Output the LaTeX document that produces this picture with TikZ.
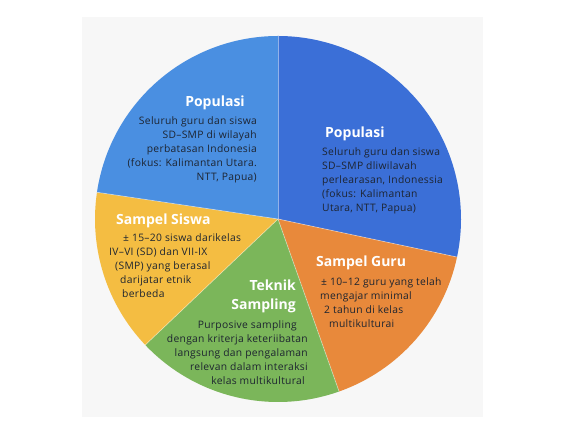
\documentclass[tikz,border=0pt]{standalone}
\usepackage{fontspec}
\setmainfont{Open Sans}
\usetikzlibrary{positioning}
\definecolor{popA}{HTML}{4A8FE1}
\definecolor{popB}{HTML}{3B6FD7}
\definecolor{guru}{HTML}{E8893B}
\definecolor{teknik}{HTML}{7BB65A}
\definecolor{siswa}{HTML}{F4BD42}
\definecolor{paper}{HTML}{F7F7F7}
\definecolor{ink}{HTML}{1D2430}

\begin{document}
\begin{tikzpicture}[x=1pt,y=1pt,
 head/.style={font=\bfseries\fontsize{14}{19}\selectfont,text=white,inner sep=0pt},
 body/.style={font=\fontsize{10.3}{14}\selectfont\addfontfeature{LetterSpace=3},text=ink,inner sep=0pt}]
\useasboundingbox (0,0) rectangle (567,425);
\fill[paper] (82,8) rectangle (483,408);
\coordinate (o) at (278,206);
% slices, clockwise from the top
\foreach \a/\b/\c in {90/-12/popB,-12/-70.5/guru,-70.5/-136.5/teknik,223.5/171.6/siswa,171.6/90/popA}
 \fill[\c] (o) -- ++(\a:183) arc[start angle=\a,end angle=\b,radius=183] -- cycle;
\foreach \a in {90,-12,-70.5,223.5,171.6} \draw[white,opacity=.45,line width=.7pt] (o) -- ++(\a:183);
% labels
\node[head] (popL) at (215,322) {Populasi};
\node[body,align=right,anchor=north east] (popLtxt) at (257,309)
 {Seluruh guru dan siswa\\SD–SMP di wilayah\\perbatasan Indonesia\\(fokus: Kalimantan Utara.\\NTT, Papua)};
\node[head,anchor=west] (popR) at (325,291) {Populasi};
\node[body,align=left,anchor=north west] (popRtxt) at (322,278)
 {Seluruh guru dan siswa\\SD–SMP dliwilavah\\perlearasan, Indonessia\\(fokus: Kalimantan\\Utara, NTT, Papua)};
\node[head,anchor=west] (siswa) at (116,204) {Sampel Siswa};
\node[body,align=left,anchor=north west] (siswatxt) at (109,192)
 {\hspace*{14pt}± 15–20 siswa darikelas\\IV–VI (SD) dan VII-IX\\\hspace*{6pt}(SMP) yang berasal\\\hspace*{11pt}darijatar etnik\\\hspace*{13pt}berbeda};
\node[head,anchor=west] (guru) at (316,162) {Sampel Guru};
\node[body,align=left,anchor=north west] (gurutxt) at (320,148)
 {\hspace*{1pt}± 10–12 guru yang telah\\mengajar minimal\\\hspace*{4pt}2 tahun di kelas\\\hspace*{9pt}multikulturai};
\node[head,align=right,anchor=north east] (teknik) at (296,145) {Teknik\\Sampling};
\node[body,align=right,anchor=north east] (teknittxt) at (308,105)
 {Purposive sampling\hspace*{11pt}\\dengan kriterja keteriibatan\hspace*{10pt}\\langsung dan pengalaman\hspace*{4pt}\\relevan dalam interaksi\\kelas multikultural\hspace*{3pt}};
\end{tikzpicture}
\end{document}
